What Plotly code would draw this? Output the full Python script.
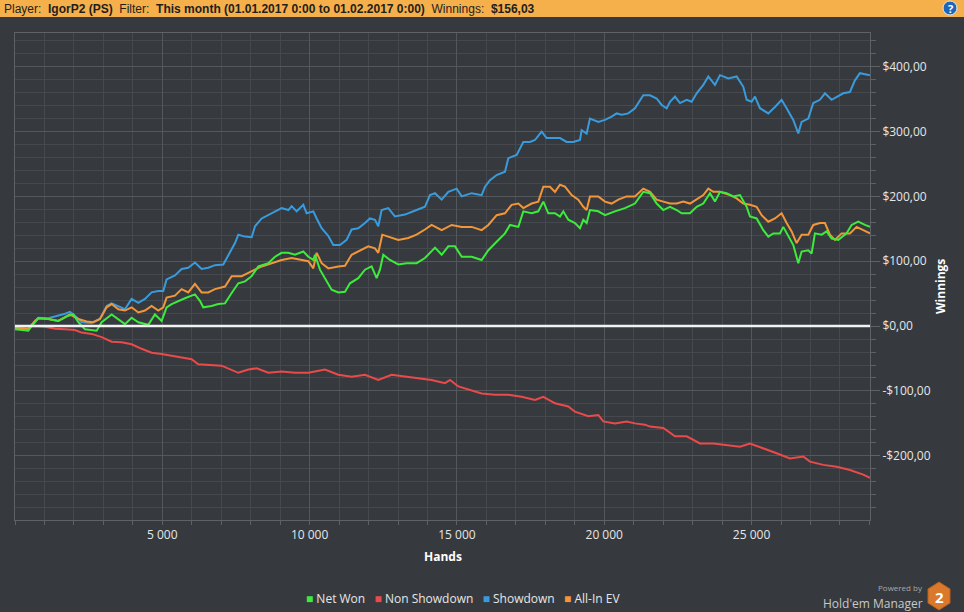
import plotly.graph_objects as go

# Net Won (green)
net_won_hands = [0, 452, 566, 792, 1131, 1470, 1810, 1979, 2149, 2375, 2771, 2941, 3280, 3506, 3732, 3959,
                 4185, 4524, 4637, 4750, 4976, 5146, 5316, 5542, 5768, 6107, 6277, 6390, 6673, 6899, 7128,
                 7354, 7580, 7807, 8033, 8259, 8598, 8825, 9051, 9277, 9503, 9786, 9956, 10125, 10182, 10351,
                 10521, 10747, 10973, 11200, 11369, 11652, 11878, 12104, 12274, 12387, 12500, 12726, 13009,
                 13292, 13631, 13914, 14256, 14482, 14708, 14935, 15161, 15500, 15839, 16066, 16348, 16631,
                 16801, 17084, 17253, 17536, 17762, 17932, 18101, 18328, 18497, 18610, 18780, 19006, 19176,
                 19289, 19402, 19515, 19798, 20024, 20363, 20703, 21042, 21325, 21553, 21779, 22005, 22232,
                 22458, 22627, 22910, 23136, 23363, 23589, 23758, 23928, 24154, 24381, 24607, 24833, 24946,
                 25172, 25399, 25568, 25738, 25964, 26077, 26247, 26416, 26586, 26699, 26925, 27038, 27151,
                 27378, 27547, 27717, 27943, 28226, 28396, 28622, 28848, 29018]
net_won = [-5, -7, 0, 12, 11, 8, 16, 18, 6, -5, -7, 6, 18, 11, 3, 13,
           6, 2, 11, 18, 8, 29, 34, 39, 43, 49, 39, 29, 31, 34, 35,
           51, 66, 69, 77, 92, 97, 107, 113, 113, 110, 115, 107, 102, 110, 87,
           74, 56, 52, 53, 66, 74, 87, 92, 74, 87, 110, 102, 95,
           97, 97, 105, 121, 110, 123, 123, 107, 107, 102, 117, 130, 143,
           156, 153, 177, 174, 177, 192, 174, 174, 169, 177, 164, 159, 151,
           164, 159, 179, 177, 171, 177, 182, 189, 207, 205, 189, 179, 184,
           179, 174, 174, 184, 189, 205, 192, 207, 205, 200, 202, 184, 169,
           166, 148, 138, 143, 143, 153, 138, 125, 97, 115, 117, 112, 143,
           141, 146, 135, 133, 143, 156, 161, 156, 153]

# Non Showdown (red)
non_sd_hands = [0, 679, 1018, 1357, 1697, 2036, 2262, 2601, 2941, 3280, 3619, 3959, 4298, 4637, 4976, 5316,
                5655, 5994, 6221, 6560, 7012, 7580, 7920, 8203, 8598, 9051, 9503, 9956, 10521, 10973, 11426,
                11878, 12331, 12783, 13235, 13688, 14140, 14595, 14765, 15048, 15387, 15839, 16292, 16744,
                17197, 17649, 17932, 18328, 18780, 19006, 19458, 19798, 19968, 20363, 20759, 21042, 21381,
                21553, 22005, 22401, 22797, 23250, 23702, 24154, 24607, 24946, 25399, 25851, 26303, 26756,
                26982, 27434, 27887, 28339, 28791, 29018]
non_sd = [-2, 0, -1, -4, -5, -6, -10, -12, -17, -24, -25, -28, -35, -41, -43, -46,
          -48, -51, -59, -60, -61, -72, -67, -65, -72, -70, -72, -72, -67, -75, -78,
          -75, -83, -75, -78, -80, -83, -88, -83, -93, -98, -104, -106, -106,
          -109, -114, -109, -119, -124, -132, -139, -137, -147, -150, -147, -150, -152,
          -155, -157, -170, -170, -181, -181, -183, -186, -181, -188, -196, -204, -201,
          -209, -214, -217, -222, -229, -234]

# Showdown (blue)
sd_hands = [0, 452, 679, 792, 1131, 1414, 1697, 1866, 2036, 2262, 2601, 2884, 3110, 3280, 3506, 3732,
            3959, 4185, 4411, 4637, 4863, 5033, 5146, 5429, 5655, 5881, 6107, 6334, 6560, 6786, 7069,
            7298, 7467, 7580, 7807, 8033, 8146, 8372, 8711, 9051, 9277, 9390, 9560, 9786, 9899, 10125,
            10238, 10408, 10634, 10804, 11030, 11256, 11426, 11652, 11878, 12048, 12218, 12331, 12444,
            12670, 12896, 13235, 13631, 13914, 14084, 14256, 14482, 14708, 14991, 15161, 15500, 15839,
            15953, 16122, 16348, 16631, 16744, 17027, 17253, 17479, 17649, 17875, 18045, 18271, 18497,
            18723, 18949, 19176, 19232, 19402, 19515, 19798, 20024, 20250, 20420, 20590, 20816, 21042,
            21325, 21553, 21779, 21949, 22119, 22232, 22401, 22571, 22797, 22967, 23136, 23363, 23532,
            23758, 23928, 24211, 24494, 24720, 24833, 25003, 25116, 25285, 25568, 25794, 26020, 26190,
            26416, 26586, 26699, 26925, 27095, 27321, 27491, 27717, 27943, 28113, 28339, 28509, 28679,
            29018]
showdown = [-4, -5, 8, 13, 12, 15, 19, 22, 16, 6, 5, 11, 31, 35, 31, 26,
            42, 36, 42, 52, 54, 54, 72, 78, 88, 90, 98, 88, 90, 94, 95,
            113, 128, 141, 138, 137, 154, 166, 174, 182, 179, 185, 177, 187, 174, 177,
            166, 151, 139, 125, 125, 133, 149, 151, 159, 166, 164, 154, 179,
            182, 169, 172, 179, 184, 202, 205, 195, 207, 212, 200, 205, 202,
            215, 225, 233, 238, 259, 264, 284, 284, 287, 300, 290, 290, 290,
            284, 284, 287, 302, 297, 320, 315, 318, 323, 328, 326, 328, 336,
            356, 356, 351, 341, 336, 346, 354, 344, 349, 346, 359, 372, 385,
            372, 387, 382, 385, 369, 349, 346, 354, 336, 328, 338, 349, 336,
            318, 297, 315, 320, 344, 349, 359, 349, 354, 359, 361, 379, 390,
            387]

# All-In EV (orange)
ev_hands = [0, 452, 679, 792, 1131, 1470, 1866, 2149, 2432, 2658, 2884, 3110, 3280, 3506, 3732, 3959,
            4185, 4411, 4637, 4863, 5033, 5146, 5429, 5655, 5881, 6107, 6334, 6560, 6786, 7128, 7354,
            7694, 7920, 8146, 8372, 8711, 9051, 9390, 9729, 9956, 10125, 10238, 10408, 10634, 10973,
            11200, 11426, 11765, 11991, 12218, 12331, 12466, 12670, 13009, 13349, 13631, 13914, 14140,
            14482, 14822, 15161, 15500, 15839, 16066, 16348, 16631, 16857, 17084, 17253, 17536, 17762,
            17932, 18158, 18328, 18497, 18667, 18893, 19119, 19289, 19402, 19515, 19798, 20024, 20250,
            20477, 20759, 21042, 21325, 21553, 21779, 22005, 22232, 22458, 22684, 22910, 23136, 23363,
            23532, 23702, 23928, 24267, 24494, 24720, 24946, 25172, 25342, 25568, 25794, 26020, 26190,
            26360, 26529, 26699, 26925, 27095, 27321, 27491, 27660, 27830, 28056, 28339, 28565, 28791,
            29018]
all_in_ev = [-3, -4, 8, 12, 11, 8, 18, 11, 7, 6, 11, 29, 34, 26, 24, 29,
             21, 24, 31, 24, 29, 44, 47, 57, 52, 65, 52, 52, 57, 61, 77,
             77, 82, 87, 92, 97, 102, 105, 102, 100, 89, 113, 97, 89, 92,
             93, 110, 118, 123, 120, 113, 141, 138, 133, 136, 141, 149, 156,
             148, 156, 153, 153, 148, 156, 171, 174, 187, 189, 182, 189, 192,
             215, 215, 207, 218, 215, 202, 195, 184, 179, 200, 200, 192, 189,
             195, 200, 200, 212, 207, 195, 192, 189, 189, 192, 189, 195, 202,
             212, 207, 207, 202, 197, 189, 187, 184, 171, 161, 166, 174, 159,
             146, 128, 141, 141, 156, 159, 159, 141, 133, 143, 143, 153, 148,
             143]

x_tickvals = [5000, 10000, 15000, 20000, 25000]
x_ticktext = ["5 000", "10 000", "15 000", "20 000", "25 000"]
y_tickvals = [-200, -100, 0, 100, 200, 300, 400]
y_ticktext = ["-$200,00", "-$100,00", "$0,00", "$100,00", "$200,00", "$300,00", "$400,00"]

names = ["Net Won", "Non Showdown", "Showdown", "All-In EV"]
colors = ["#3CEB3C", "#EA4A4A", "#3A9BDC", "#F2963A"]

BG = "#363A3E"
W, H = 964, 612
L, R, T, B = 15, 870, 33, 520


def px(x, y):
    # pixel position -> paper coordinates
    return (x - L) / (R - L), (B - y) / (B - T)


fig = go.Figure()

# draw order: red, blue, orange, green on top
for xs, ys, c, n in [(non_sd_hands, non_sd, colors[1], names[1]), (sd_hands, showdown, colors[2], names[2]),
                     (ev_hands, all_in_ev, colors[3], names[3]), (net_won_hands, net_won, colors[0], names[0])]:
    fig.add_trace(go.Scatter(x=xs, y=ys, mode="lines", name=n, line=dict(color=c, width=2),
                             showlegend=False, hoverinfo="skip"))

shapes = []
# header bar
x0, y0 = px(0, 17)
x1, y1 = px(W, 0)
shapes.append(dict(type="rect", xref="paper", yref="paper", x0=x0, y0=y0, x1=x1, y1=y1,
                   fillcolor="#F5B04B", line=dict(width=0), layer="below"))
# help icon
cx0, cy0 = px(943, 15)
cx1, cy1 = px(957, 1)
shapes.append(dict(type="circle", xref="paper", yref="paper", x0=cx0, y0=cy0, x1=cx1, y1=cy1,
                   fillcolor="#1F66B8", line=dict(color="#DDE8F5", width=1)))
# zero line
shapes.append(dict(type="line", xref="paper", yref="y", x0=0, x1=1, y0=0, y1=0,
                   line=dict(color="#F2F2F2", width=2.5), layer="above"))
# HM2 logo hexagon
hexpts = [(939, 582), (950, 589), (950, 603), (939, 610), (928, 603), (928, 589)]
path = "M " + " L ".join("%.5f %.5f" % px(a, b) for a, b in hexpts) + " Z"
shapes.append(dict(type="path", xref="paper", yref="paper", path=path,
                   fillcolor="#DA792C", line=dict(color="#B8611E", width=1)))

annotations = []


def note(text, x, y, size, color, xanchor="center", angle=0, family="Open Sans"):
    ax, ay = px(x, y)
    annotations.append(dict(text=text, x=ax, y=ay, xref="paper", yref="paper", showarrow=False,
                            xanchor=xanchor, yanchor="middle", textangle=angle,
                            font=dict(size=size, color=color, family=family)))


note("Player:  <b>IgorP2 (PS)</b>  Filter:  <b>This month (01.01.2017 0:00 to 01.02.2017 0:00)</b>"
     "  Winnings:  <b>$156,03</b>", 2, 8.5, 12, "#1E1E1E", xanchor="left", family="Liberation Sans")
note("<b>?</b>", 950, 8.5, 11, "#FFFFFF")
note("<b>Hands</b>", 443, 556, 12, "#FFFFFF")
note("<b>Winnings</b>", 940, 287, 12, "#FFFFFF", angle=-90)
note("Powered by", 925, 587, 8, "#A8A8A8", xanchor="right")
note("Hold'em Manager", 925, 603, 12, "#C8C8C8", xanchor="right")
note("<b>2</b>", 939, 597, 15, "#FFFFFF")

# legend row: coloured squares followed by the series names
legend_text = "   ".join("<span style='color:%s'>■</span> %s" % (c, n) for n, c in zip(names, colors))
note(legend_text, 463, 598, 12, "#E6E6E6")

fig.update_layout(
    width=W, height=H,
    margin=dict(l=L, r=W - R, t=T, b=H - B),
    paper_bgcolor=BG, plot_bgcolor=BG,
    font=dict(family="Open Sans", size=12, color="#E6E6E6"),
    shapes=shapes, annotations=annotations,
    showlegend=False,
    xaxis=dict(range=[0, 29020], tickmode="array", tickvals=x_tickvals, ticktext=x_ticktext,
               ticks="outside", ticklen=4, tickcolor="#5E6266",
               showgrid=True, gridcolor="#54585C", gridwidth=1, zeroline=False,
               showline=True, linecolor="#5E6266", linewidth=1, mirror=True,
               minor=dict(tick0=0, dtick=1000, ticks="outside", ticklen=4, tickcolor="#5E6266",
                          showgrid=True, gridcolor="#45494D", gridwidth=1),
               tickfont=dict(size=12, color="#E6E6E6")),
    yaxis=dict(range=[-299, 452], side="right", tickmode="array", tickvals=y_tickvals,
               ticktext=y_ticktext, ticks="outside", ticklen=9, tickcolor="#5E6266",
               showgrid=True, gridcolor="#54585C", gridwidth=1, zeroline=False,
               showline=True, linecolor="#5E6266", linewidth=1, mirror=True,
               minor=dict(tick0=0, dtick=20, ticks="outside", ticklen=5, tickcolor="#5E6266",
                          showgrid=True, gridcolor="#45494D", gridwidth=1),
               tickfont=dict(size=12, color="#E6E6E6")),
)

fig.write_html("out.html", config={"displayModeBar": False},
               post_script="document.body.style.margin='0';")
